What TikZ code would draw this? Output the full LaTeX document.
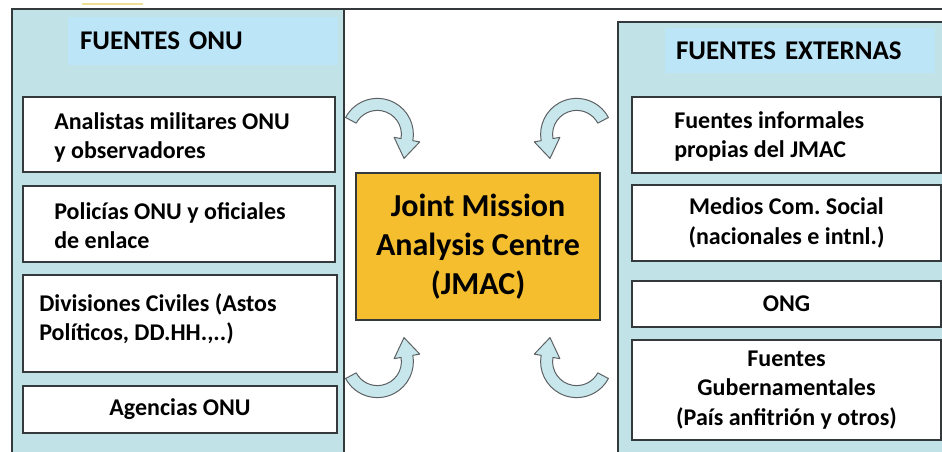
\documentclass[tikz,border=0pt]{standalone}
\usepackage{fontspec}
\setmainfont{Carlito}
\usetikzlibrary{positioning}
\usetikzlibrary{calc}

\definecolor{panelteal}{RGB}{193,227,231}
\definecolor{headblue}{RGB}{188,230,248}
\definecolor{jmacgold}{RGB}{245,190,46}
\definecolor{arrowblue}{RGB}{200,231,237}
\definecolor{edgegrey}{RGB}{52,58,60}
\definecolor{paleyellow}{RGB}{238,222,150}

\tikzset{
  panel/.style={draw=edgegrey, line width=1.6pt, fill=panelteal},
  header/.style={fill=headblue, inner sep=0pt, inner xsep=12pt, align=left,
    text width=246pt, font=\bfseries\fontsize{27}{32}\selectfont},
  srcbox/.style={draw=edgegrey, line width=1.8pt, fill=white, inner sep=0pt,
    align=center, font=\bfseries\fontsize{24}{29.5}\selectfont},
  srctext/.style={anchor=west, align=left, inner sep=0pt,
    font=\bfseries\fontsize{24}{29}\selectfont},
  hub/.style={draw=edgegrey, line width=1.2pt, fill=jmacgold, inner sep=0pt,
    minimum width=244pt, minimum height=147pt, align=center,
    font=\bfseries\fontsize{32}{39}\selectfont},
  bendarrow/.style={draw=edgegrey!80, fill=arrowblue, line width=1pt, line join=round},
  pics/feed arrow/.style={code={
    \draw[bendarrow] (152:36pt) arc[start angle=152, end angle=-10, radius=36pt]
      -- (-10:43pt) -- (26.6pt,-24pt) -- (-10:17pt) -- (-10:24pt)
      arc[start angle=-10, end angle=152, radius=24pt] -- cycle;
  }}
}

\begin{document}
\frenchspacing
\begin{tikzpicture}[x=1pt,y=1pt]
  \useasboundingbox (0,0) rectangle (942,452);
  \clip (0,0) rectangle (942,452);

  \draw[edgegrey, line width=1.6pt] (12,-10) rectangle (950,443);
  \draw[paleyellow, line width=2pt] (82,448) -- (143,448);

  % UN sources
  \draw[panel] (12,-10) rectangle (344,443);
  \node[header] (onuhead) at (203,411) [minimum height=48pt] {FUENTES ONU};

  \node[srcbox, minimum width=312pt, minimum height=75pt] (b1) at (179,317.5) {};
  \node[srctext] (t1) at ([xshift=32pt,yshift=-3pt]b1.west) {Analistas militares ONU\\y observadores};
  \node[srcbox, minimum width=312pt, minimum height=76pt] (b2) at (179,228) {};
  \node[srctext] (t2) at ([xshift=32pt,yshift=-1.5pt]b2.west) {Policías ONU y oficiales\\de enlace};
  \node[srcbox, minimum width=314pt, minimum height=97pt] (b3) at (180,128.5) {};
  \node[srctext] (t3) at ([xshift=17pt,yshift=5pt]b3.west) {Divisiones Civiles (Astos\\Políticos, DD.HH.,..)};
  \node[srcbox, minimum width=314pt, minimum height=47pt] (b4) at (180,42.5) {Agencias ONU};

  % external sources
  \draw[panel] (618,-10) rectangle (950,430);
  \node[header] (exthead) at (800,401.5) [minimum height=45pt, inner xsep=11pt, text width=248pt] {FUENTES EXTERNAS};

  \node[srcbox, minimum width=309pt, minimum height=76pt] (r1) at (786.5,317) {};
  \node[srctext] (s1) at ([xshift=43pt,yshift=-1.5pt]r1.west) {Fuentes informales\\propias del JMAC};
  \node[srcbox, minimum width=309pt, minimum height=76pt] (r2) at (786.5,229) {Medios Com. Social\\(nacionales e intnl.)};
  \node[srcbox, minimum width=309pt, minimum height=46pt] (r3) at (786.5,148) {ONG};
  \node[srcbox, minimum width=309pt, minimum height=100pt] (r4) at (786.5,62) {Fuentes\\Gubernamentales\\(País anfitrión y otros)};

  % centre
  \node[hub] (jmac) at (478,205.5) {Joint Mission\\Analysis Centre\\(JMAC)};

  \pic at ($(jmac.north west)+(22,38)$) {feed arrow};
  \pic[xscale=-1] at ($(jmac.north east)+(-24,38)$) {feed arrow};
  \pic[yscale=-1] at ($(jmac.south west)+(22,-41)$) {feed arrow};
  \pic[xscale=-1,yscale=-1] at ($(jmac.south east)+(-24,-41)$) {feed arrow};
\end{tikzpicture}
\end{document}
